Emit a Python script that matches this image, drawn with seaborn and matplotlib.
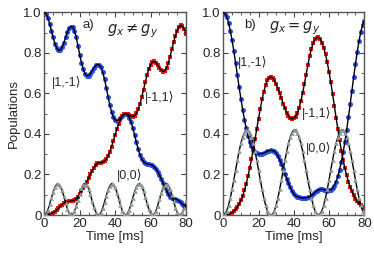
import numpy as np
import pandas as pd
import matplotlib
matplotlib.use('Agg')
import matplotlib.pyplot as plt
import seaborn as sns
from matplotlib.ticker import MultipleLocator

# time axis [ms]
time = np.arange(81)

# panel a) g_x != g_y
blue_a = [1.000, 0.993, 0.973, 0.944, 0.910, 0.876, 0.845, 0.823, 0.812, 0.814,
          0.827, 0.849, 0.876, 0.902, 0.921, 0.930, 0.927, 0.909, 0.878, 0.836,
          0.791, 0.751, 0.719, 0.697, 0.687, 0.688, 0.698, 0.712, 0.726, 0.738,
          0.742, 0.741, 0.729, 0.704, 0.670, 0.628, 0.584, 0.542, 0.507, 0.483,
          0.469, 0.465, 0.470, 0.479, 0.490, 0.498, 0.500, 0.494, 0.480, 0.457,
          0.428, 0.394, 0.358, 0.325, 0.297, 0.276, 0.263, 0.256, 0.252, 0.250,
          0.249, 0.245, 0.238, 0.228, 0.214, 0.197, 0.178, 0.158, 0.139, 0.120,
          0.103, 0.091, 0.083, 0.080, 0.079, 0.076, 0.070, 0.062, 0.054, 0.046,
          0.040]
red_a = [0.000, 0.001, 0.002, 0.004, 0.007, 0.011, 0.017, 0.025, 0.034, 0.043,
         0.051, 0.058, 0.063, 0.066, 0.068, 0.069, 0.070, 0.073, 0.079, 0.090,
         0.104, 0.118, 0.132, 0.148, 0.165, 0.183, 0.200, 0.218, 0.234, 0.246,
         0.256, 0.258, 0.259, 0.261, 0.266, 0.276, 0.292, 0.313, 0.338, 0.366,
         0.395, 0.424, 0.450, 0.472, 0.488, 0.497, 0.500, 0.498, 0.493, 0.488,
         0.486, 0.490, 0.502, 0.522, 0.549, 0.582, 0.618, 0.655, 0.690, 0.720,
         0.742, 0.755, 0.758, 0.752, 0.740, 0.726, 0.714, 0.708, 0.711, 0.725,
         0.750, 0.782, 0.818, 0.853, 0.884, 0.910, 0.928, 0.936, 0.932, 0.917,
         0.893]
zero_a = [0.000, 0.006, 0.025, 0.052, 0.083, 0.113, 0.138, 0.152, 0.154, 0.143,
          0.122, 0.093, 0.061, 0.032, 0.011, 0.001, 0.003, 0.018, 0.043, 0.074,
          0.105, 0.131, 0.149, 0.155, 0.148, 0.129, 0.102, 0.070, 0.040, 0.016,
          0.002, 0.001, 0.012, 0.035, 0.064, 0.096, 0.124, 0.145, 0.155, 0.151,
          0.136, 0.111, 0.080, 0.049, 0.022, 0.005, 0.000, 0.008, 0.027, 0.055,
          0.086, 0.116, 0.140, 0.153, 0.154, 0.142, 0.119, 0.089, 0.058, 0.030,
          0.009, 0.000, 0.004, 0.020, 0.046, 0.077, 0.108, 0.134, 0.150, 0.155,
          0.147, 0.127, 0.099, 0.067, 0.037, 0.014, 0.002, 0.002, 0.014, 0.037,
          0.067]

# panel b) g_x = g_y
blue_b = [1.000, 0.994, 0.977, 0.948, 0.908, 0.861, 0.808, 0.750, 0.690, 0.630,
          0.573, 0.520, 0.471, 0.427, 0.391, 0.362, 0.339, 0.322, 0.311, 0.305,
          0.302, 0.302, 0.303, 0.306, 0.310, 0.314, 0.317, 0.319, 0.318, 0.314,
          0.305, 0.291, 0.273, 0.252, 0.228, 0.204, 0.180, 0.157, 0.137, 0.119,
          0.104, 0.095, 0.090, 0.087, 0.085, 0.084, 0.084, 0.085, 0.087, 0.090,
          0.095, 0.103, 0.112, 0.119, 0.124, 0.126, 0.127, 0.125, 0.122, 0.120,
          0.121, 0.124, 0.132, 0.145, 0.165, 0.191, 0.224, 0.263, 0.309, 0.362,
          0.420, 0.482, 0.547, 0.614, 0.681, 0.746, 0.805, 0.858, 0.903, 0.937,
          0.959]
red_b = [0.000, 0.000, 0.001, 0.003, 0.007, 0.012, 0.019, 0.028, 0.040, 0.055,
         0.073, 0.095, 0.122, 0.154, 0.190, 0.231, 0.276, 0.324, 0.374, 0.425,
         0.476, 0.525, 0.570, 0.609, 0.641, 0.664, 0.677, 0.681, 0.676, 0.664,
         0.646, 0.624, 0.600, 0.575, 0.550, 0.526, 0.505, 0.489, 0.478, 0.474,
         0.477, 0.486, 0.503, 0.528, 0.561, 0.601, 0.646, 0.693, 0.740, 0.783,
         0.820, 0.848, 0.866, 0.875, 0.876, 0.868, 0.851, 0.826, 0.793, 0.753,
         0.706, 0.654, 0.598, 0.540, 0.481, 0.424, 0.369, 0.318, 0.272, 0.231,
         0.195, 0.164, 0.138, 0.116, 0.097, 0.081, 0.068, 0.057, 0.048, 0.041,
         0.035]
zero_b = [0.000, 0.006, 0.022, 0.049, 0.085, 0.127, 0.173, 0.222, 0.270, 0.315,
          0.354, 0.385, 0.407, 0.419, 0.419, 0.407, 0.385, 0.354, 0.315, 0.270,
          0.222, 0.173, 0.127, 0.085, 0.049, 0.022, 0.006, 0.000, 0.006, 0.022,
          0.049, 0.085, 0.127, 0.173, 0.222, 0.270, 0.315, 0.354, 0.385, 0.407,
          0.419, 0.419, 0.407, 0.385, 0.354, 0.315, 0.270, 0.222, 0.173, 0.127,
          0.085, 0.049, 0.022, 0.006, 0.000, 0.006, 0.022, 0.049, 0.085, 0.127,
          0.173, 0.222, 0.270, 0.315, 0.354, 0.385, 0.407, 0.419, 0.419, 0.407,
          0.385, 0.354, 0.315, 0.270, 0.222, 0.173, 0.127, 0.085, 0.049, 0.022,
          0.006]

sns.set_style('ticks')
plt.rcParams['font.family'] = ['Liberation Sans', 'DejaVu Sans']

BLUE = '#2a4cf2'
RED = '#f01414'
GREY = '#8e9c9a'

fig = plt.figure(figsize=(3.74, 2.54), dpi=100)
ax1 = fig.add_axes([0.1184, 0.1535, 0.379, 0.798])
ax2 = fig.add_axes([0.597, 0.1535, 0.377, 0.798])


def draw(ax, blue, red, zero):
    df = pd.DataFrame({'t': time, 'blue': blue, 'red': red, 'zero': zero})
    sns.scatterplot(data=df, x='t', y='blue', ax=ax, color=BLUE, marker='o',
                    s=13, linewidth=0, zorder=2)
    sns.scatterplot(data=df, x='t', y='red', ax=ax, color=RED, marker='s',
                    s=10, linewidth=0, zorder=2)
    for col in ['blue', 'red', 'zero']:
        sns.lineplot(data=df, x='t', y=col, ax=ax, color='black', lw=1.0,
                     zorder=3)
    sns.scatterplot(data=df, x='t', y='zero', ax=ax, color=GREY, marker='^',
                    s=11, linewidth=0, zorder=4)
    ax.set_xlim(0, 80)
    ax.set_ylim(0, 1.0)
    ax.xaxis.set_major_locator(MultipleLocator(20))
    ax.xaxis.set_minor_locator(MultipleLocator(5))
    ax.yaxis.set_major_locator(MultipleLocator(0.2))
    ax.yaxis.set_minor_locator(MultipleLocator(0.1))
    ax.set_yticks([0, 0.2, 0.4, 0.6, 0.8, 1.0])
    ax.set_yticklabels(['0', '0.2', '0.4', '0.6', '0.8', '1.0'])
    ax.tick_params(which='both', direction='in', top=True, right=True,
                   labelsize=9.5, pad=2, color='#444444')
    ax.tick_params(which='major', length=3.5, width=0.8)
    ax.tick_params(which='minor', length=2, width=0.6)
    for sp in ax.spines.values():
        sp.set_color('#555555')
        sp.set_linewidth(1.0)
    ax.set_xlabel('Time [ms]', fontsize=9.5, labelpad=1)
    ax.set_ylabel('')


draw(ax1, blue_a, red_a, zero_a)
draw(ax2, blue_b, red_b, zero_b)

ax1.set_ylabel('Populations', fontsize=9.5, labelpad=2)

# annotations, panel a
ax1.text(24.7, 0.936, 'a)', fontsize=9.5, ha='center', va='center')
ax1.text(50, 0.91, r'$g_x \neq g_y$', fontsize=10.5, ha='center', va='center')
ax1.text(4.3, 0.655, '|1,-1\u27e9', fontsize=9, ha='left', va='center')
ax1.text(57, 0.58, '|-1,1\u27e9', fontsize=9, ha='left', va='center')
ax1.text(41, 0.197, '|0,0\u27e9', fontsize=9, ha='left', va='center')

# annotations, panel b
ax2.text(15.2, 0.936, 'b)', fontsize=9.5, ha='center', va='center')
ax2.text(40.5, 0.92, r'$g_x = g_y$', fontsize=10.5, ha='center', va='center')
ax2.text(8.5, 0.754, '|1,-1\u27e9', fontsize=9, ha='left', va='center')
ax2.text(44.5, 0.50, '|-1,1\u27e9', fontsize=9, ha='left', va='center')
ax2.text(47, 0.33, '|0,0\u27e9', fontsize=9, ha='left', va='center')

fig.savefig('out.png', dpi=100)
